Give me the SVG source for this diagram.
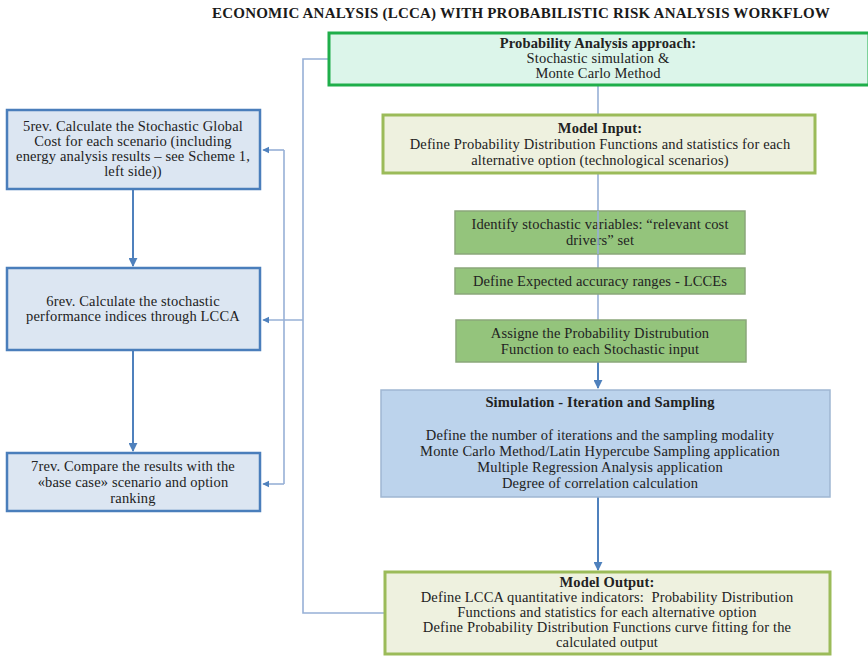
<svg xmlns="http://www.w3.org/2000/svg" width="868" height="656" viewBox="0 0 868 656">
  <style>
    text { font-family: "Liberation Serif", "Times New Roman", serif; font-size: 14.5px; letter-spacing: 0.15px; fill: #222; text-anchor: middle; }
    .b { font-weight: bold; }
    .pre { white-space: pre; }
    .title { font-size: 15px; letter-spacing: 0.2px; font-weight: bold; fill: #1a1a1a; }
    .approach { fill: #dcf5ea; stroke: #1fae4a; stroke-width: 3; }
    .model { fill: #eef1df; stroke: #9bbb59; stroke-width: 3; }
    .step { fill: #94c47c; stroke: #8aa77a; stroke-width: 1.5; }
    .sim { fill: #bcd3ec; stroke: #9fb6d2; stroke-width: 1.5; }
    .rev { fill: #dce6f2; stroke: #4a7ebb; stroke-width: 2.5; }
    .thin { fill: none; stroke: #97b0d6; stroke-width: 1.6; }
    .arrow { fill: none; stroke: #4f81bd; stroke-width: 2; }
  </style>
  <defs>
    <marker id="head" viewBox="0 0 10 10" refX="9" refY="5" markerWidth="4.5" markerHeight="4.5" orient="auto">
      <path d="M0,0 L10,5 L0,10 z" fill="#4f81bd"/>
    </marker>
  </defs>

  <rect width="868" height="656" fill="#ffffff"/>

  <text class="title" x="521" y="18">ECONOMIC ANALYSIS (LCCA) WITH PROBABILISTIC RISK ANALYSIS WORKFLOW</text>

  <g id="connectors">
    <!-- central spine -->
    <path class="thin" d="M598,85 V320"/>
    <path class="arrow" d="M598,362 V388" marker-end="url(#head)"/>
    <path class="arrow" d="M598,497 V570" marker-end="url(#head)"/>
    <!-- loop from the top box to the model output -->
    <path class="thin" d="M329,59 H303 V613 H385"/>
    <!-- feedback bracket into the rev steps -->
    <path class="thin" d="M284,150 V484"/>
    <path class="thin" d="M284,150 H263" marker-end="url(#head)"/>
    <path class="thin" d="M303,320 H263" marker-end="url(#head)"/>
    <path class="thin" d="M284,484 H263" marker-end="url(#head)"/>
    <!-- rev sequence -->
    <path class="arrow" d="M133,189 V266" marker-end="url(#head)"/>
    <path class="arrow" d="M133,350 V451" marker-end="url(#head)"/>
  </g>

  <g id="approach">
    <rect class="approach" x="329" y="33" width="540" height="52"/>
    <text class="b" x="598" y="48">Probability Analysis approach:</text>
    <text x="598" y="63">Stochastic simulation &amp;</text>
    <text x="598" y="78">Monte Carlo Method</text>
  </g>

  <g id="model-input">
    <rect class="model" x="383" y="115" width="432" height="58"/>
    <text class="b" x="600" y="133">Model Input:</text>
    <text x="600" y="149">Define Probability Distribution Functions and statistics for each</text>
    <text x="600" y="165">alternative option (technological scenarios)</text>
  </g>

  <g id="identify">
    <rect class="step" x="455" y="211" width="290" height="43"/>
    <text x="600" y="229">Identify stochastic variables: “relevant cost</text>
    <text x="600" y="245">drivers” set</text>
  </g>
  <path class="thin" d="M598,211 V254"/>

  <g id="accuracy">
    <rect class="step" x="455" y="268" width="290" height="26"/>
    <text x="600" y="286">Define Expected accuracy ranges - LCCEs</text>
  </g>

  <g id="assign">
    <rect class="step" x="456" y="320" width="290" height="42"/>
    <text x="600" y="338">Assigne the Probability Distrubution</text>
    <text x="600" y="354">Function to each Stochastic input</text>
  </g>

  <g id="simulation">
    <rect class="sim" x="381" y="390" width="449" height="107"/>
    <text class="b" x="600" y="407">Simulation - Iteration and Sampling</text>
    <text x="600" y="440">Define the number of iterations and the sampling modality</text>
    <text x="600" y="456">Monte Carlo Method/Latin Hypercube Sampling application</text>
    <text x="600" y="472">Multiple Regression Analysis application</text>
    <text x="600" y="488">Degree of correlation calculation</text>
  </g>

  <g id="model-output">
    <rect class="model" x="385" y="572" width="445" height="82"/>
    <text class="b" x="607" y="587">Model Output:</text>
    <text class="pre" x="607" y="602">Define LCCA quantitative indicators:  Probability Distribution</text>
    <text x="607" y="617">Functions and statistics for each alternative option</text>
    <text x="607" y="632">Define Probability Distribution Functions curve fitting for the</text>
    <text x="607" y="647">calculated output</text>
  </g>

  <g id="rev5">
    <rect class="rev" x="7" y="110" width="253" height="79"/>
    <text x="133" y="131">5rev. Calculate the Stochastic Global</text>
    <text x="133" y="146">Cost for each scenario (including</text>
    <text x="133" y="161">energy analysis results – see Scheme 1,</text>
    <text x="133" y="176">left side))</text>
  </g>

  <g id="rev6">
    <rect class="rev" x="7" y="268" width="253" height="82"/>
    <text x="133" y="306">6rev. Calculate the stochastic</text>
    <text x="133" y="321">performance indices through LCCA</text>
  </g>

  <g id="rev7">
    <rect class="rev" x="7" y="453" width="253" height="58"/>
    <text x="133" y="471">7rev. Compare the results with the</text>
    <text x="133" y="487">«base case» scenario and option</text>
    <text x="133" y="503">ranking</text>
  </g>
</svg>
